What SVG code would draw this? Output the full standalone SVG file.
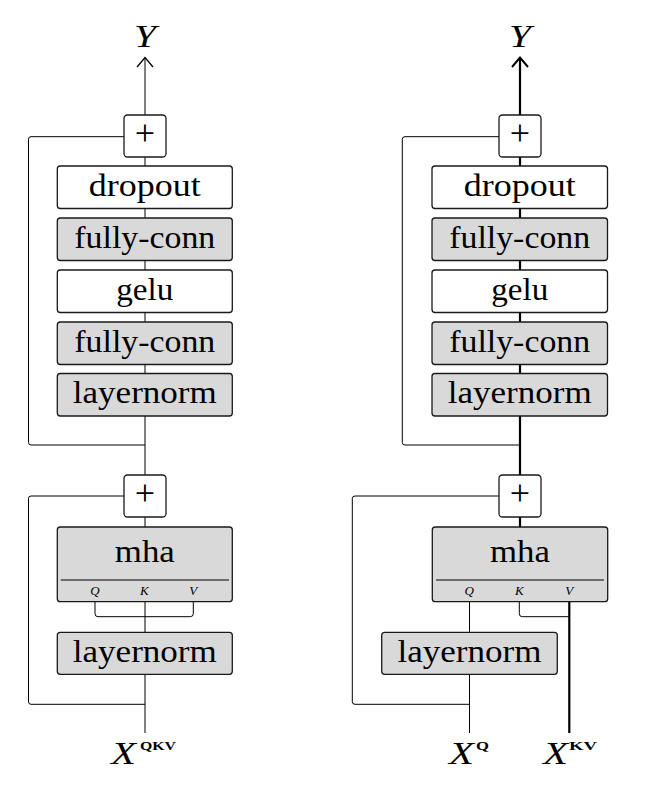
<svg xmlns="http://www.w3.org/2000/svg" width="665" height="796" viewBox="0 0 665 796">
<style>
.bg{fill:#ffffff}
.box{stroke:#1a1a1a;stroke-width:1.3}
.w{fill:#ffffff}
.g{fill:#d9d9d9}
.t{font-family:"Liberation Serif","Times New Roman",serif;font-size:31px;fill:#000;text-anchor:middle}
.pl{font-family:"Liberation Serif","Times New Roman",serif;font-size:36px;fill:#000;text-anchor:middle}
.qkv{font-family:"Liberation Serif","Times New Roman",serif;font-size:13px;font-style:italic;fill:#000;text-anchor:middle}
.m{font-family:"Liberation Serif","Times New Roman",serif;font-size:31px;font-style:italic;fill:#000}
.sup{font-family:"Liberation Serif","Times New Roman",serif;font-size:12px;font-weight:bold;fill:#000}
.thin{fill:none;stroke:#000;stroke-width:1}
.thick{fill:none;stroke:#000;stroke-width:2.2}
.div{stroke:#000;stroke-width:1}
</style>
<defs>
<marker id="arr" markerWidth="20" markerHeight="20" refX="10" refY="10" orient="auto" markerUnits="userSpaceOnUse">
<path d="M0.5,2 L10,10 L0.5,18" fill="none" stroke="#000" stroke-width="1.3"/>
</marker>
<marker id="arrT" markerWidth="20" markerHeight="20" refX="10" refY="10" orient="auto" markerUnits="userSpaceOnUse">
<path d="M0.5,2 L10,10 L0.5,18" fill="none" stroke="#000" stroke-width="2"/>
</marker>
</defs>
<rect class="bg" x="0" y="0" width="665" height="796"/>

<g id="connectors">
<!-- left column -->
<line class="thin" x1="145" y1="733" x2="145" y2="57.5" marker-end="url(#arr)"/>
<path class="thin" d="M124,136.7 H31 Q28.5,136.7 28.5,139.2 V442.5 Q28.5,445 31,445 H145"/>
<path class="thin" d="M124,496 H31 Q28.5,496 28.5,498.5 V701.8 Q28.5,704.3 31,704.3 H145"/>
<path class="thin" d="M95,601.7 V613.7 Q95,616.7 98,616.7 H190.3 Q193.3,616.7 193.3,613.7 V601.7"/>
<!-- right column -->
<line class="thick" x1="520" y1="527" x2="520" y2="57.5" marker-end="url(#arrT)"/>
<path class="thin" d="M499,136.7 H405 Q402.3,136.7 402.3,139.2 V442.5 Q402.3,445 405,445 H520"/>
<path class="thin" d="M499,496 H355 Q352.3,496 352.3,498.5 V701.8 Q352.3,704.3 355,704.3 H469.5"/>
<line class="thin" x1="469.5" y1="601.7" x2="469.5" y2="733"/>
<path class="thin" d="M519.3,601.7 V613.7 Q519.3,616.7 522.3,616.7 H569.3"/>
<line class="thick" x1="569.3" y1="601.7" x2="569.3" y2="733"/>
</g>

<!-- left column nodes -->
<g id="L-plus1">
<rect class="box w" x="124" y="115" width="42" height="42" rx="3.5"/>
<text class="pl" x="145" y="145">+</text>
</g>
<g id="L-dropout">
<rect class="box w" x="57.3" y="166" width="175" height="42.5" rx="3"/>
<text class="t" x="144.8" y="195.5" textLength="112" lengthAdjust="spacingAndGlyphs">dropout</text>
</g>
<g id="L-fc2">
<rect class="box g" x="57.3" y="218" width="175" height="42.5" rx="3"/>
<text class="t" x="144.8" y="247.5" textLength="141" lengthAdjust="spacingAndGlyphs">fully-conn</text>
</g>
<g id="L-gelu">
<rect class="box w" x="57.3" y="270" width="175" height="42.5" rx="3"/>
<text class="t" x="144.8" y="299.5" textLength="57" lengthAdjust="spacingAndGlyphs">gelu</text>
</g>
<g id="L-fc1">
<rect class="box g" x="57.3" y="322" width="175" height="42.5" rx="3"/>
<text class="t" x="144.8" y="351.5" textLength="141" lengthAdjust="spacingAndGlyphs">fully-conn</text>
</g>
<g id="L-ln2">
<rect class="box g" x="57.3" y="373.5" width="175" height="42.5" rx="3"/>
<text class="t" x="144.8" y="403" textLength="144" lengthAdjust="spacingAndGlyphs">layernorm</text>
</g>
<g id="L-plus2">
<rect class="box w" x="124" y="475" width="42" height="42" rx="3.5"/>
<text class="pl" x="145" y="505">+</text>
</g>
<g id="L-mha">
<rect class="box g" x="57.3" y="527" width="175" height="74.7" rx="3"/>
<text class="t" x="144.8" y="561.7" textLength="60" lengthAdjust="spacingAndGlyphs">mha</text>
<line class="div" x1="60.7" y1="580" x2="229" y2="580"/>
<text class="qkv" x="95" y="595">Q</text>
<text class="qkv" x="144.3" y="595">K</text>
<text class="qkv" x="193.3" y="595">V</text>
</g>
<g id="L-ln1">
<rect class="box g" x="57.3" y="632.3" width="175" height="42" rx="3"/>
<text class="t" x="144.8" y="661.7" textLength="144" lengthAdjust="spacingAndGlyphs">layernorm</text>
</g>
<g id="L-Y">
<text class="m" x="145" y="46.5" text-anchor="middle" textLength="22" lengthAdjust="spacingAndGlyphs">Y</text>
</g>
<g id="L-X">
<text class="m" x="111" y="764.3" textLength="25" lengthAdjust="spacingAndGlyphs">X</text>
<text class="sup" x="140" y="749.5" textLength="36" lengthAdjust="spacingAndGlyphs">QKV</text>
</g>

<!-- right column nodes -->
<g id="R-plus1">
<rect class="box w" x="499" y="115" width="42" height="42" rx="3.5"/>
<text class="pl" x="520" y="145">+</text>
</g>
<g id="R-dropout">
<rect class="box w" x="432" y="166" width="175.5" height="42.5" rx="3"/>
<text class="t" x="519.7" y="195.5" textLength="112" lengthAdjust="spacingAndGlyphs">dropout</text>
</g>
<g id="R-fc2">
<rect class="box g" x="432" y="218" width="175.5" height="42.5" rx="3"/>
<text class="t" x="519.7" y="247.5" textLength="141" lengthAdjust="spacingAndGlyphs">fully-conn</text>
</g>
<g id="R-gelu">
<rect class="box w" x="432" y="270" width="175.5" height="42.5" rx="3"/>
<text class="t" x="519.7" y="299.5" textLength="57" lengthAdjust="spacingAndGlyphs">gelu</text>
</g>
<g id="R-fc1">
<rect class="box g" x="432" y="322" width="175.5" height="42.5" rx="3"/>
<text class="t" x="519.7" y="351.5" textLength="141" lengthAdjust="spacingAndGlyphs">fully-conn</text>
</g>
<g id="R-ln2">
<rect class="box g" x="432" y="373.5" width="175.5" height="42.5" rx="3"/>
<text class="t" x="519.7" y="403" textLength="144" lengthAdjust="spacingAndGlyphs">layernorm</text>
</g>
<g id="R-plus2">
<rect class="box w" x="499" y="475" width="42" height="42" rx="3.5"/>
<text class="pl" x="520" y="505">+</text>
</g>
<g id="R-mha">
<rect class="box g" x="432.3" y="527" width="175.4" height="74.7" rx="3"/>
<text class="t" x="520" y="561.7" textLength="60" lengthAdjust="spacingAndGlyphs">mha</text>
<line class="div" x1="436" y1="580" x2="604" y2="580"/>
<text class="qkv" x="469.3" y="595">Q</text>
<text class="qkv" x="519.3" y="595">K</text>
<text class="qkv" x="569.3" y="595">V</text>
</g>
<g id="R-ln1">
<rect class="box g" x="381.7" y="632.3" width="175.6" height="42" rx="3"/>
<text class="t" x="469.5" y="661.7" textLength="144" lengthAdjust="spacingAndGlyphs">layernorm</text>
</g>
<g id="R-Y">
<text class="m" x="520" y="46.5" text-anchor="middle" textLength="22" lengthAdjust="spacingAndGlyphs">Y</text>
</g>
<g id="R-XQ">
<text class="m" x="449" y="764.3" textLength="25" lengthAdjust="spacingAndGlyphs">X</text>
<text class="sup" x="476" y="749.5" textLength="13" lengthAdjust="spacingAndGlyphs">Q</text>
</g>
<g id="R-XKV">
<text class="m" x="543" y="764.3" textLength="25" lengthAdjust="spacingAndGlyphs">X</text>
<text class="sup" x="569" y="749.5" textLength="28" lengthAdjust="spacingAndGlyphs">KV</text>
</g>
</svg>
